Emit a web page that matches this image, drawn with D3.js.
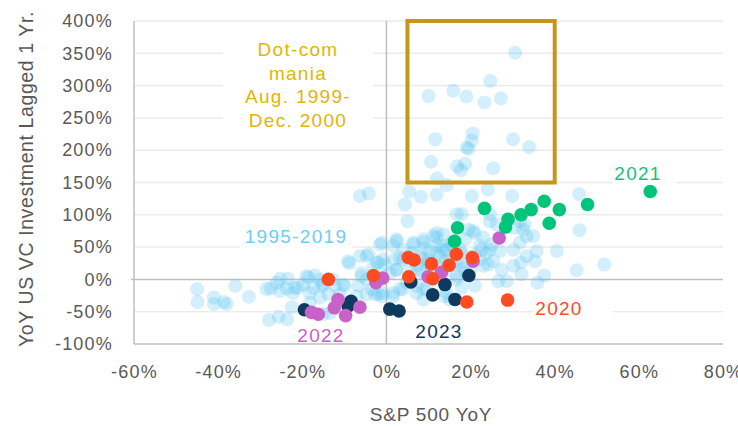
<!DOCTYPE html>
<html>
<head>
<meta charset="utf-8">
<script src="https://cdn.jsdelivr.net/npm/d3@7"></script>
<style>
  body { margin: 0; background: #fff; }
  svg { display: block; }
</style>
</head>
<body>
<div id="main"></div>
<script>
// values in percent: [S&P 500 YoY, VC investment YoY lagged 1 yr]
var base = [
  [30.6,351],[24.7,307],[10.0,284],[15.9,292],[19.0,283],[23.3,274],[27.2,280],[11.6,217],[20.5,226],[20.3,215],
  [19.1,204],[19.5,202],[30.1,217],[33.9,205],[10.6,182],[16.8,175],[18.7,179],[17.7,169],[25.4,172],[12.0,156],
  [14.3,146],[5.4,136],[8.2,128],[11.9,131],[20.3,129],[24.1,139],[29.9,129],
  [-6.3,129],[-4.2,133],[4.4,116],[5.0,90],[16.7,101],
  [-1.1,57],[2.4,62],[6.4,57],[-8.8,25],[-6.3,36],[-4.3,39],[-1.9,26],
  [17.9,101],[20.5,75],[24.6,90],[31.7,90],[32.5,77],[34.9,67],[45.8,132],[45.9,76],[40.5,44],[45.2,14],[51.8,23],
  [35.7,44],[37.5,6],[35.9,-5],[32.1,8],[30.2,21],[27.4,15],[26.6,-3],[28.6,-3],[33.3,36],[23.8,41],[25.4,28],
  [32.0,26],[33.3,67],[31.7,57],[30.2,46],[27.0,44],[25.0,54],[23.0,65],[21.0,72],[19.5,77],[22.6,46],[24.2,23],
  [21.0,-10],[26.2,85],[24.6,101],[30.6,80],[32.9,85],[35.3,28],
  [-45.0,-15],[-44.9,-35],[-41.0,-28],[-41.0,-38],[-38.6,-35],[-38.0,-38],[-35.9,-10],[-32.7,-27],[-28.5,-15],
  [-27.5,-14],[-25.3,1],[-23.4,1],[-26.1,-5],[-25.3,-18],[-23.7,-14],[-22.3,-21],[-22.5,-43],[-27.9,-63],[-25.6,-58],
  [-23.6,-62],[-21.0,-13],
  [-18.6,3],[-17.0,6],[-15.8,0],[-19.8,-8],[-17.4,-13],[-15.4,-10],[-12.7,0],[-9.9,-10],[-9.1,28],[-4.7,36],[-5.9,5],
  [-2.3,26],[-3.1,18],[-0.8,31],[-1.5,54],[-2.7,-23],[-1.1,-26],[-18.2,-36],[-13.4,-52],[-15.0,-54],
  [-21.8,-13],[-19.0,5],[-15.0,-8],[-12.2,-10],[-10.3,-8],[-6.7,-10],[-4.7,0],[-5.9,10],[0.8,10],[2.4,15],[4.0,31],
  [8.8,57],[10.3,44],[11.9,52],[13.5,46],[15.1,54],[11.9,65],[13.5,70],[8.0,36],[7.2,21],[8.4,10],[7.2,-10],[8.8,-15],
  [3.2,-15],[1.6,-21],[-0.8,-21],[-1.9,-23],[-3.5,-15],[-4.7,-23],[-7.1,-26],[-11.1,-23],[-13.8,-23],[-15.8,-28],
  [-18.2,-21],[16.7,21],[16.7,0],[11.9,5],[14.3,-21],[15.1,-31],[8.8,-31],[4.8,-5],[5.6,21],
  [2.4,59],[1.6,52],[6.4,54],[8.8,62],[11.1,67],[11.9,72],[13.1,52],[14.3,46],[15.9,52],[17.5,46],[18.7,62],[22.2,52],
  [23.0,21],[18.3,18],[16.7,5],[17.9,-13],[13.9,-26],[9.6,-15],[7.2,-21],[4.0,-15],[1.6,-26],[2.4,15],[8.0,15],[4.0,46],
  [-0.4,23],[2.0,31],[3.2,34],[8.8,31],[12.7,36],[17.5,26],[22.2,31],[24.6,46],
  [10,25],[12,20],[14,28],[15,35],[18,40],[20,15],[6,40],[9,48],[14,12],[19,8],[21,38],[16,60],[10,30],[12,40]
];
var y2020 = [[28.8,-32],[19.1,-35],[20.4,34],[16.6,39],[14.9,22],[10.7,24],[11.0,1],[5.3,4],[5.2,34],[6.6,30],[-13.8,0],[-3.1,6]];
var y2021 = [[62.7,136],[23.3,110],[37.5,121],[34.4,108],[32.0,100],[28.9,93],[28.3,81],[41.1,108],[38.7,87],[47.8,116],[16.9,80],[16.2,59]];
var y2022 = [[-17.8,-51],[-16.2,-54],[-11.5,-31],[-12.4,-44],[-9.7,-56],[-6.3,-43],[-2.5,-5],[-0.9,2],[9.9,4],[13.1,11],[26.8,64],[20.6,28]];
var y2023 = [[19.6,6],[13.9,-8],[11.0,-24],[16.3,-31],[5.8,-4],[0.8,-46],[3.0,-49],[-19.5,-47],[-8.4,-34],[-9.1,-41]];

var xTicks = [-60, -40, -20, 0, 20, 40, 60, 80];
var yTicks = [-100, -50, 0, 50, 100, 150, 200, 250, 300, 350, 400];
var dotcom = { x0: 5, x1: 40, y0: 150, y1: 400 };

var W = 738, H = 427;
var svg = d3.select("#main").append("svg").attr("width", W).attr("height", H);

var x = d3.scaleLinear().domain([-60, 80]).range([134, 723]);
var y = d3.scaleLinear().domain([-100, 400]).range([344, 21]);

var axisFont = "'Liberation Sans', Arial, sans-serif";
var grey = "#595959";

// gridlines
svg.append("g").selectAll("line")
  .data(yTicks.filter(function(d) { return d !== 0 && d !== -100; }))
  .enter().append("line")
  .attr("x1", x(-60)).attr("x2", x(80))
  .attr("y1", function(d) { return y(d); }).attr("y2", function(d) { return y(d); })
  .attr("stroke", "#ebebeb").attr("stroke-width", 1.5);

// white label boxes that knock out the gridlines
var boxes = [[223, 30, 150, 112], [240, 225, 112, 25], [612, 160, 64, 26], [533, 296, 80, 25]];
svg.append("g").selectAll("rect").data(boxes).enter().append("rect")
  .attr("x", function(d) { return d[0]; }).attr("y", function(d) { return d[1]; })
  .attr("width", function(d) { return d[2]; }).attr("height", function(d) { return d[3]; })
  .attr("fill", "#fff");

// axis lines + zero lines
var lineCol = "#bfbfbf";
svg.append("line").attr("x1", x(-60)).attr("x2", x(-60)).attr("y1", y(400)).attr("y2", y(-100))
  .attr("stroke", lineCol).attr("stroke-width", 1.5);
svg.append("line").attr("x1", x(-60)).attr("x2", x(80)).attr("y1", y(-100)).attr("y2", y(-100))
  .attr("stroke", lineCol).attr("stroke-width", 1.5);
svg.append("line").attr("x1", x(0)).attr("x2", x(0)).attr("y1", y(400)).attr("y2", y(-100))
  .attr("stroke", lineCol).attr("stroke-width", 1.5);
svg.append("line").attr("x1", x(-60) - 3).attr("x2", x(80)).attr("y1", y(0)).attr("y2", y(0))
  .attr("stroke", lineCol).attr("stroke-width", 1.5);

// axes (labels only)
var fmt = function(d) { return d + "%"; };
var gx = svg.append("g").attr("transform", "translate(0," + y(-100) + ")")
  .call(d3.axisBottom(x).tickValues(xTicks).tickFormat(fmt).tickSize(0).tickPadding(21));
var gy = svg.append("g").attr("transform", "translate(" + x(-60) + ",0)")
  .call(d3.axisLeft(y).tickValues(yTicks).tickFormat(fmt).tickSize(0).tickPadding(21));
[gx, gy].forEach(function(g) {
  g.select(".domain").remove();
  g.selectAll("text").attr("fill", grey).style("font-family", axisFont)
    .style("font-size", "18px").style("letter-spacing", "1.2px");
});

// points
function dots(data, fill, op, r) {
  svg.append("g").selectAll("circle").data(data).enter().append("circle")
    .attr("cx", function(d) { return x(d[0]); })
    .attr("cy", function(d) { return y(d[1]); })
    .attr("r", r).attr("fill", fill).attr("fill-opacity", op);
}
dots(base, "#5ec4f0", 0.28, 7);
dots(y2023, "#0f3a5f", 1, 6.8);
dots(y2022, "#c862c8", 1, 6.8);
dots(y2020, "#ff4b22", 1, 6.8);
dots(y2021, "#00c47a", 1, 6.8);

// dot-com box
svg.append("rect")
  .attr("x", x(dotcom.x0)).attr("y", y(dotcom.y1))
  .attr("width", x(dotcom.x1) - x(dotcom.x0)).attr("height", y(dotcom.y0) - y(dotcom.y1))
  .attr("fill", "none").attr("stroke", "#c4961c").attr("stroke-width", 4);

// annotations
var annFont = "'Liberation Sans', Arial, sans-serif";
function label(t, cx, by, col) {
  svg.append("text").attr("x", cx).attr("y", by).attr("text-anchor", "middle")
    .attr("fill", col).style("font-family", annFont).style("font-size", "19px")
    .style("letter-spacing", "1.3px").text(t);
}
label("1995-2019", 296, 243, "#6ccdf5");
label("2022", 321, 342, "#c862c8");
label("2023", 439, 338, "#0f3a5f");
label("2020", 559, 315, "#ff4b22");
label("2021", 638, 180, "#14c27c");
["Dot-com", "mania", "Aug. 1999-", "Dec. 2000"].forEach(function(t, i) {
  label(t, 298, 56 + i * 23.6, "#e2b407");
});

// titles
svg.append("text").attr("x", 431).attr("y", 421).attr("text-anchor", "middle")
  .attr("fill", grey).style("font-family", axisFont).style("font-size", "19px")
  .style("letter-spacing", "0.8px").text("S&P 500 YoY");
svg.append("text").attr("transform", "translate(33,179) rotate(-90)").attr("text-anchor", "middle")
  .attr("fill", grey).style("font-family", axisFont).style("font-size", "19.5px")
  .style("letter-spacing", "0.6px").text("YoY US VC Investment Lagged 1 Yr.");
</script>
</body>
</html>
